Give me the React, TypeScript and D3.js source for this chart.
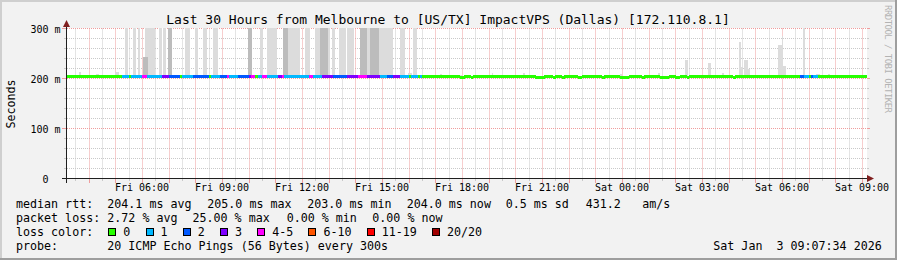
import React from 'react';
import * as d3 from 'd3';

const W = 897;
const H = 260;

const title = 'Last 30 Hours from Melbourne to [US/TX] ImpactVPS (Dallas) [172.110.8.1]';
// time in hours since Fri 00:00
const timeDomain: [number, number] = [3 + 10 / 60, 33 + 10 / 60];
const stepHours = 5 / 60;
const xTickHours = [6, 9, 12, 15, 18, 21, 24, 27, 30, 33];
const xTickLabels = ['Fri 06:00', 'Fri 09:00', 'Fri 12:00', 'Fri 15:00', 'Fri 18:00', 'Fri 21:00', 'Sat 00:00', 'Sat 03:00', 'Sat 06:00', 'Sat 09:00'];
const yTicks = [0, 100, 200, 300];
const yTickNums = ['0', '100', '200', '300'];
const yTickSuffix = ['', 'm', 'm', 'm'];

const medianBase = 204;
// [start, end, median ms]
const medianDips: [number, number, number][] = [
  [17.91, 18.10, 202], [18.35, 18.45, 202], [20.72, 21.10, 202], [21.40, 21.50, 202],
  [21.73, 21.83, 202], [22.34, 22.49, 202], [23.27, 23.37, 202], [23.91, 24.29, 202],
  [24.71, 24.81, 202], [25.42, 25.72, 202], [25.98, 26.16, 202], [26.41, 26.51, 202],
  [28.19, 28.29, 202],
];
// [start, end, loss class index]
const lossRuns: [number, number, number][] = [
  [5.28, 5.46, 1], [5.61, 5.99, 1], [6.03, 6.18, 4], [6.18, 6.78, 1], [6.78, 7.04, 3],
  [7.04, 7.41, 2], [7.53, 7.90, 1], [7.90, 8.46, 2], [8.61, 8.91, 1], [8.91, 9.18, 2],
  [9.18, 9.29, 4], [9.29, 9.55, 1], [9.55, 9.96, 2], [9.96, 10.11, 3], [10.11, 10.23, 4],
  [10.34, 10.53, 1], [10.53, 10.68, 4], [10.68, 11.05, 1], [11.05, 11.24, 3], [11.24, 11.35, 4],
  [11.35, 12.29, 1], [12.29, 12.40, 4], [12.40, 12.78, 1], [12.78, 13.15, 3], [13.15, 13.68, 2],
  [13.68, 14.05, 3], [14.05, 14.43, 4], [14.43, 14.91, 3], [14.91, 15.18, 1], [15.18, 15.40, 2],
  [15.40, 15.66, 3], [15.66, 15.96, 1], [16.11, 16.30, 1], [16.44, 16.54, 1],
  [30.70, 30.85, 2], [30.85, 30.96, 1], [31.07, 31.17, 2], [31.17, 31.30, 1],
];
// [start, end, top ms, shade]
const smokeBars: [number, number, number, string][] = [
  [5.35, 5.46, 320, 'L'], [5.65, 5.76, 320, 'L'], [5.84, 5.91, 320, 'L'], [6.10, 6.48, 320, 'L'],
  [6.03, 6.21, 242, 'D'], [6.63, 6.74, 320, 'L'], [6.78, 6.89, 320, 'L'], [6.96, 7.11, 320, 'D'],
  [7.60, 7.79, 320, 'L'], [7.98, 8.09, 320, 'L'], [8.28, 8.43, 320, 'L'], [8.65, 8.84, 320, 'L'],
  [9.96, 10.11, 320, 'D'], [10.41, 10.53, 320, 'L'], [10.68, 11.05, 320, 'L'], [11.28, 11.47, 320, 'D'],
  [11.47, 11.91, 320, 'L'], [12.10, 12.29, 320, 'L'], [12.47, 13.03, 320, 'L'], [12.66, 12.96, 320, 'D'],
  [13.11, 13.22, 320, 'L'], [13.40, 13.66, 320, 'L'], [13.70, 13.96, 320, 'L'], [14.16, 14.43, 320, 'D'],
  [14.43, 14.55, 320, 'L'], [14.55, 14.90, 320, 'D'], [14.90, 15.40, 320, 'L'], [15.66, 15.85, 320, 'L'],
  [16.15, 16.30, 320, 'L'],
  [3.63, 3.70, 212, 'L'], [4.26, 4.38, 208, 'L'], [4.79, 4.87, 207, 'L'], [4.98, 5.13, 212, 'L'],
  [15.96, 16.11, 210, 'L'], [17.16, 17.24, 208, 'L'], [17.91, 17.99, 206, 'L'], [19.11, 19.17, 210, 'L'],
  [20.28, 20.35, 210, 'L'], [23.91, 23.99, 208, 'L'], [25.34, 25.42, 210, 'L'], [26.35, 26.46, 236, 'L'],
  [27.21, 27.32, 230, 'L'], [27.74, 27.82, 210, 'L'], [28.37, 28.45, 272, 'L'], [28.45, 28.52, 222, 'L'],
  [28.56, 28.71, 236, 'L'], [28.71, 28.79, 218, 'L'], [29.84, 29.98, 267, 'L'], [29.98, 30.02, 284, 'L'],
  [30.02, 30.13, 225, 'L'], [30.77, 30.85, 300, 'L'], [31.26, 31.41, 208, 'L'], [31.71, 31.79, 208, 'L'],
];
const smokeFloor = 203;

const lossLabels = ['0', '1', '2', '3', '4-5', '6-10', '11-19', '20/20'];
const lossColors = ['#26ff00', '#00b8ff', '#0059ff', '#7e00ff', '#ff00ff', '#ff5500', '#ff0000', '#a10000'];

const rttItems = ['204.1 ms avg', '205.0 ms max', '203.0 ms min', '204.0 ms now', '0.5 ms sd', '431.2', 'am/s'];
const lossItems = ['2.72 % avg', '25.00 % max', '0.00 % min', '0.00 % now'];
const probeText = '20 ICMP Echo Pings (56 Bytes) every 300s';
const dateText = 'Sat Jan  3 09:07:34 2026';

const MONO = "'DejaVu Sans Mono', monospace";

export default function App() {
  const x = d3.scaleLinear().domain(timeDomain).range([66.5, 866.5]);
  const y = d3.scaleLinear().domain([0, 300]).range([178.5, 28.5]);
  const cx = (v: number) => Math.round(x(v)) + 0.5;
  const cy = (v: number) => Math.round(y(v) - 0.5) + 0.5;

  const minorV = d3.range(Math.ceil(timeDomain[0] * 2) / 2, timeDomain[1], 0.5).filter((h) => h % 1 !== 0);
  const majorV = d3.range(Math.ceil(timeDomain[0]), timeDomain[1], 1);
  const minorH = d3.range(20, 301, 20).filter((v) => v % 100 !== 0);
  const majorH = yTicks.filter((v) => v > 0);

  const nSteps = Math.round((timeDomain[1] - timeDomain[0]) / stepHours);
  const steps = d3.range(nSteps).map((i) => {
    const t0 = timeDomain[0] + i * stepHours;
    const mid = t0 + stepHours / 2;
    const run = lossRuns.find((r) => mid >= r[0] && mid < r[1]);
    const dip = medianDips.find((r) => mid >= r[0] && mid < r[1]);
    return { t0, t1: t0 + stepHours, cls: run ? run[2] : 0, med: dip ? dip[2] : medianBase };
  });

  const sortedSmoke = [...smokeBars].sort((a, b) => (a[3] === b[3] ? 0 : a[3] === 'L' ? -1 : 1));

  // loss legend layout (justified spacing)
  const charW = 7.02;
  const boxStarts: number[] = [];
  let bx = 108.3;
  lossLabels.forEach((l) => {
    boxStarts.push(bx);
    bx += 15 + charW * l.length + 15.2;
  });

  const rttX = [107.3, 207.3, 307.3, 406.7, 505.7, 585.7, 642.3];
  const lossX = [107.3, 192.5, 286.7, 372.3];

  return (
    <div style={{ position: 'fixed', left: 0, top: 0 }}>
      <svg width={W} height={H} viewBox={`0 0 ${W} ${H}`} style={{ display: 'block' }}>
        <rect x={0} y={0} width={W} height={H} fill="#f2f2f2" />
        {/* frame shading */}
        <rect x={0} y={0} width={W} height={2} fill="#cfcfcf" />
        <rect x={0} y={0} width={2} height={H} fill="#cfcfcf" />
        <rect x={0} y={H - 2} width={W} height={2} fill="#9e9e9e" />
        <rect x={W - 2} y={0} width={2} height={H} fill="#9e9e9e" />

        {/* canvas */}
        <rect x={67} y={28} width={800} height={151} fill="#ffffff" />

        {/* grid */}
        <g strokeWidth={1} fill="none">
          {minorH.map((v) => (
            <g key={'mh' + v}>
              <line x1={67} x2={867} y1={cy(v)} y2={cy(v)} stroke="#c9c9c9" strokeDasharray="1,1" />
              <line x1={64} x2={67} y1={cy(v)} y2={cy(v)} stroke="#c9c9c9" />
              <line x1={867} x2={869} y1={cy(v)} y2={cy(v)} stroke="#c9c9c9" />
            </g>
          ))}
          {minorV.map((h) => (
            <g key={'mv' + h}>
              <line x1={cx(h)} x2={cx(h)} y1={28.5} y2={178.5} stroke="#c9c9c9" strokeDasharray="1,1" />
              <line x1={cx(h)} x2={cx(h)} y1={178.5} y2={181} stroke="#c9c9c9" />
            </g>
          ))}
          {majorH.map((v) => (
            <g key={'Mh' + v}>
              <line x1={67} x2={867} y1={cy(v)} y2={cy(v)} stroke="#ef9d9d" strokeDasharray="1,1" />
              <line x1={62} x2={67} y1={cy(v)} y2={cy(v)} stroke="#ef9d9d" />
              <line x1={867} x2={870} y1={cy(v)} y2={cy(v)} stroke="#ef9d9d" />
            </g>
          ))}
          {majorV.map((h) => (
            <g key={'Mv' + h}>
              <line x1={cx(h)} x2={cx(h)} y1={28.5} y2={178.5} stroke="#ef9d9d" strokeDasharray="1,1" />
              <line x1={cx(h)} x2={cx(h)} y1={178.5} y2={183} stroke="#ef9d9d" />
            </g>
          ))}
        </g>

        {/* smoke */}
        <g shapeRendering="crispEdges">
          {sortedSmoke.map((b, i) => {
            const top = Math.min(b[2], 300);
            return (
              <rect
                key={'s' + i}
                x={x(b[0])}
                width={x(b[1]) - x(b[0])}
                y={y(top) - 0.5}
                height={y(smokeFloor) - y(top) + 0.5}
                fill={b[3] === 'L' ? '#dcdcdc' : '#bcbcbc'}
              />
            );
          })}
        </g>

        {/* median colored by loss */}
        <g shapeRendering="crispEdges">
          {steps.map((s, i) => (
            <rect
              key={'m' + i}
              x={x(s.t0)}
              width={x(s.t1) - x(s.t0) + 0.3}
              y={y(s.med + 2.4)}
              height={y(s.med - 2.4) - y(s.med + 2.4)}
              fill={lossColors[s.cls]}
            />
          ))}
        </g>

        {/* axes */}
        <line x1={62} x2={869} y1={178.5} y2={178.5} stroke="#1f1f1f" />
        <line x1={66.5} x2={66.5} y1={183} y2={26} stroke="#1f1f1f" />
        <path d="M66.5,20 L63,27 L70,27 Z" fill="#801f1f" />
        <path d="M874,178.5 L867,175 L867,182 Z" fill="#801f1f" />

        {/* tick labels */}
        <g fontFamily={MONO} fontSize={10} fill="#000">
          {yTicks.map((v, i) => (
            <g key={'yl' + v}>
              <text x={48.5} y={y(v) + 4} textAnchor="end">{yTickNums[i]}</text>
              <text x={54.5} y={y(v) + 4}>{yTickSuffix[i]}</text>
            </g>
          ))}
          {xTickHours.map((h, i) => (
            <text key={'xl' + h} x={x(h)} y={191} textAnchor="middle">{xTickLabels[i]}</text>
          ))}
        </g>

        {/* title */}
        <text x={448} y={24} textAnchor="middle" fontFamily={MONO} fontSize={13} fill="#000">{title}</text>

        {/* y label */}
        <text transform="translate(14.5,104) rotate(-90)" textAnchor="middle" fontFamily={MONO} fontSize={11.67} fill="#000">Seconds</text>

        {/* watermark */}
        <text transform="translate(885,5) rotate(90)" fontFamily={MONO} fontSize={9} fill="#b3b3b3" textLength={108} lengthAdjust="spacing">RRDTOOL / TOBI OETIKER</text>

        {/* legend */}
        <g fontFamily={MONO} fontSize={11.67} fill="#000">
          <text x={16} y={208}>median rtt:</text>
          {rttItems.map((t, i) => (
            <text key={'r' + i} x={rttX[i]} y={208}>{t}</text>
          ))}
          <text x={16} y={222}>packet loss:</text>
          {lossItems.map((t, i) => (
            <text key={'p' + i} x={lossX[i]} y={222}>{t}</text>
          ))}
          <text x={16} y={236}>loss color:</text>
          {lossLabels.map((l, i) => (
            <g key={'lc' + i}>
              <rect x={Math.round(boxStarts[i]) + 0.5} y={228.5} width={7} height={7} fill={lossColors[i]} stroke="#000" shapeRendering="crispEdges" />
              <text x={boxStarts[i] + 15} y={236}>{l}</text>
            </g>
          ))}
          <text x={16} y={250}>probe:</text>
          <text x={107.3} y={250}>{probeText}</text>
          <text x={713.3} y={250} xmlSpace="preserve" style={{ whiteSpace: 'pre' }}>{dateText}</text>
        </g>
      </svg>
    </div>
  );
}
